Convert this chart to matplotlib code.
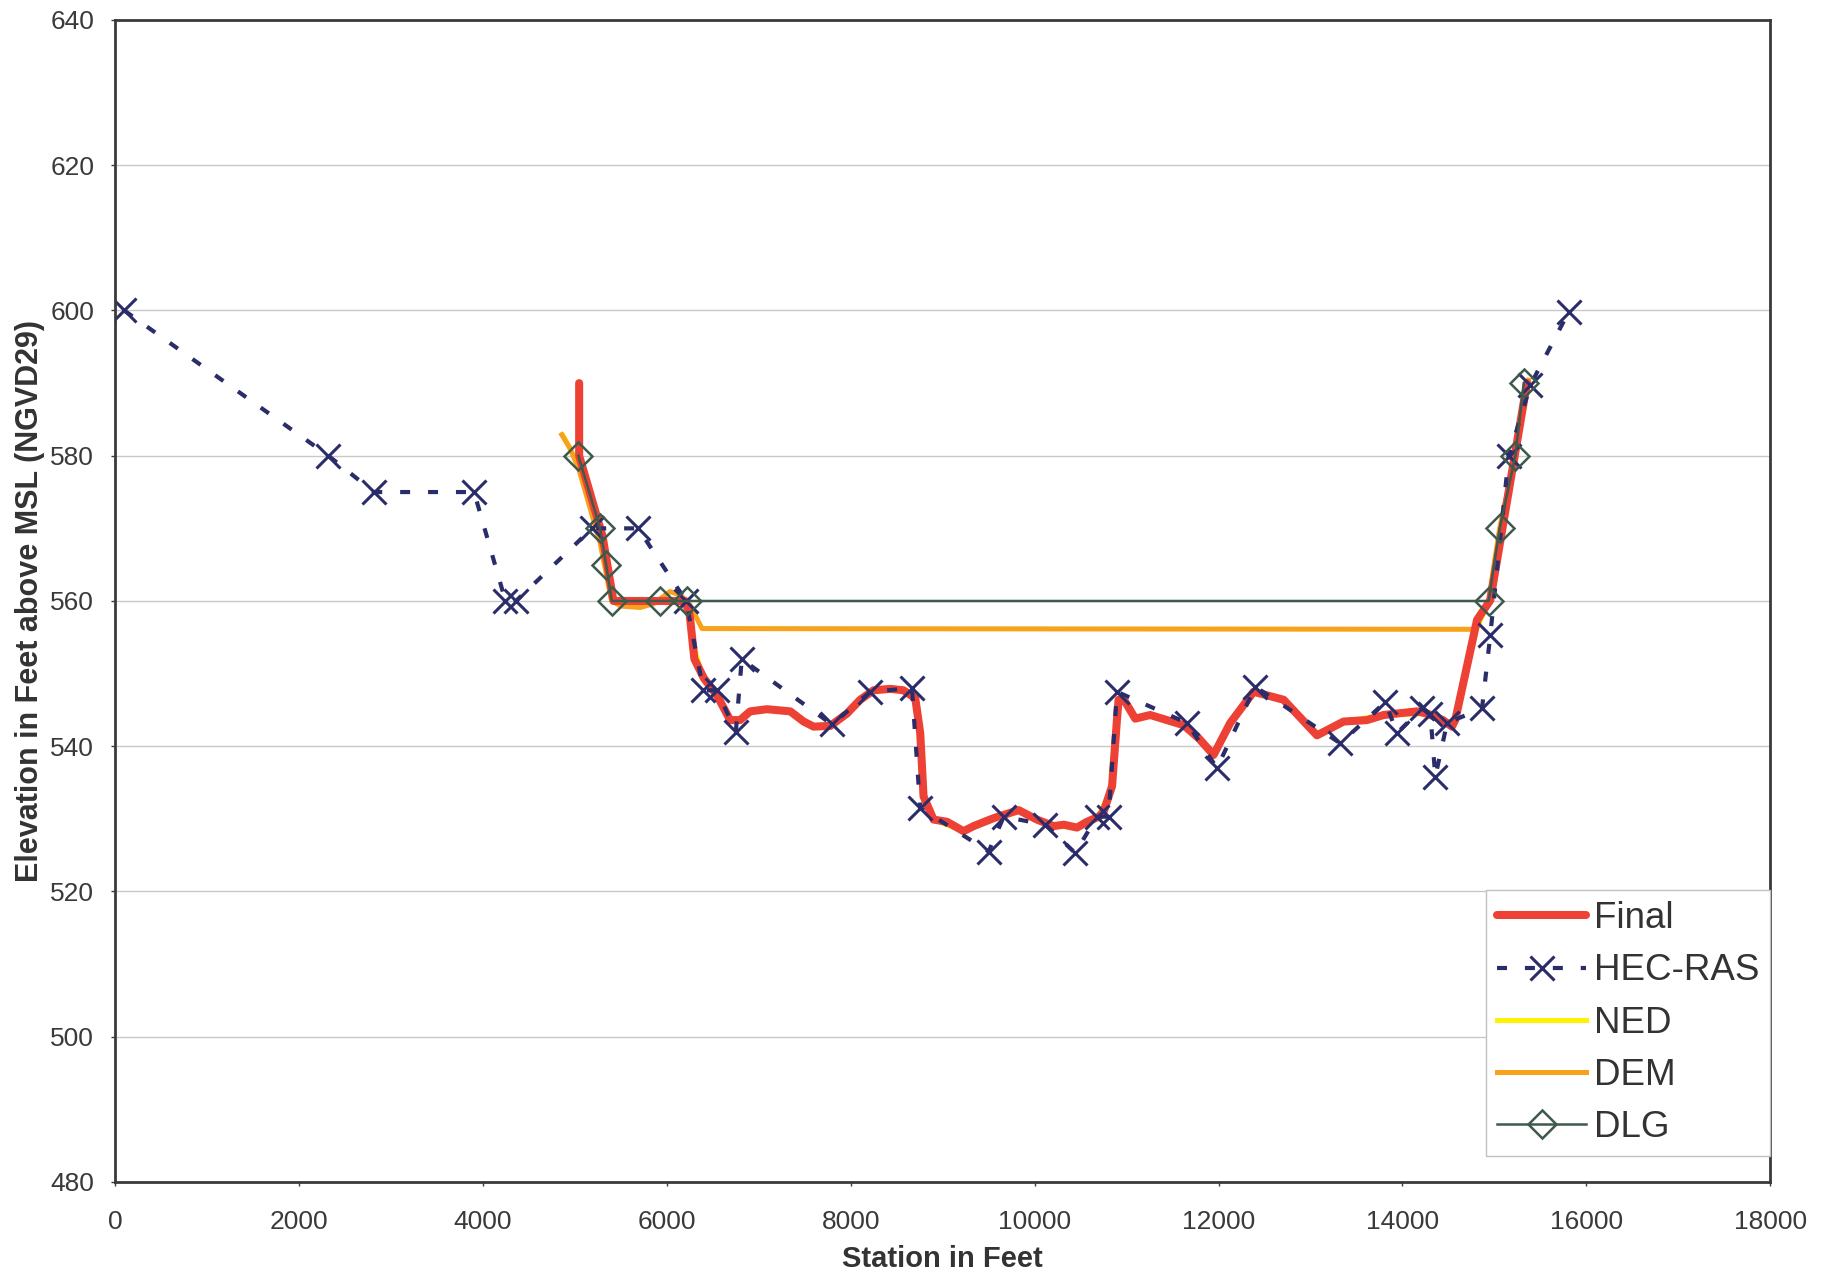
import matplotlib.pyplot as plt

plt.rcParams['font.family'] = ['Liberation Sans', 'DejaVu Sans']

# station (ft) / elevation (ft) for each profile
final_x = [5047, 5047, 5300, 5420, 6200, 6250, 6300, 6402, 6546, 6689, 6797,
           6906, 7088, 7343, 7488, 7597, 7778, 7959, 8103, 8248, 8429, 8574,
           8702, 8756, 8792, 8901, 9046, 9227, 9336, 9554, 9826, 10025, 10206,
           10316, 10461, 10570, 10697, 10751, 10842, 10895, 10913, 10986,
           11094, 11257, 11620, 11784, 11946, 12127, 12381, 12707, 13070,
           13360, 13614, 13795, 14158, 14266, 14440, 14538, 14574, 14811,
           14955, 15354]
final_y = [590, 580, 569, 560, 560, 558, 552, 549.4, 547, 543.6, 543.6,
           544.8, 545.1, 544.8, 543.4, 542.7, 542.8, 544.5, 546.4, 547.7, 547.9,
           547.7, 546.6, 541.8, 533.1, 529.9, 529.6, 528.3, 529.0, 530.1, 531.2,
           529.9, 529.0, 529.2, 528.8, 529.6, 530.3, 531.0, 534.5, 543.6, 546.4,
           546.1, 543.8, 544.3, 542.9, 541.1, 538.8, 543.2, 547.5, 546.4, 541.5,
           543.4, 543.6, 544.3, 544.8, 544.5, 543.6, 542.7, 543.6, 557.4, 560.1,
           590]

hec_x = [100, 2320, 2815, 3904, 4246, 4360, 5188, 5688, 6210, 6399, 6544,
         6751, 6815, 7795, 8212, 8666, 8755, 9500, 9664, 10116, 10441, 10677,
         10804, 10895, 11656, 11983, 12399, 13324, 13814, 13940, 14212, 14303,
         14357, 14485, 14865, 14955, 15155, 15390, 15807]
hec_y = [600, 580, 575, 575, 560, 560, 570, 570, 560, 547.7, 547.7,
         542, 552, 543, 547.5, 548, 531.5, 525.5, 530.3, 529.2, 525.3, 530.3,
         530.3, 547.5, 543.2, 537, 548.2, 540.4, 546.1, 541.8, 545.2, 544.5,
         535.8, 543.2, 545.2, 555.3, 579.9, 589.7, 599.8]

ned_x = [4870, 5047, 5280, 5400, 6210, 6280, 6400, 6546, 6689, 6797, 6906,
         7088, 7343, 7488, 7597, 7778, 7959, 8103, 8248, 8429, 8574, 8702,
         8756, 8792, 8901, 9227, 9554, 9826, 10206, 10461, 10697, 10842,
         10895, 10913, 10986, 11094, 11257, 11620, 11784, 11946, 12127, 12381,
         12707, 13070, 13360, 13795, 14266, 14538, 14574, 14800, 14940, 15060,
         15230, 15360]
ned_y = [582.8, 578.5, 568, 560, 560, 554.5, 549, 547, 543.6, 543.6, 544.8,
         545.1, 544.8, 543.4, 542.7, 542.8, 544.5, 546.4, 547.7, 547.9, 547.7,
         546.6, 541.8, 533.1, 529.9, 528.3, 530.1, 531.2, 529.0, 528.8, 530.3,
         534.5, 543.6, 546.4, 546.1, 543.8, 544.3, 542.9, 541.1, 538.8, 543.2,
         547.5, 546.4, 541.5, 543.4, 544.3, 544.5, 542.7, 543.6, 556, 560, 570,
         580, 590]

dem_x = [4858, 4950, 5047, 5275, 5402, 5500, 5710, 5850, 5950, 6036, 6150,
         6250, 6383, 14793, 14937, 15057, 15228, 15372]
dem_y = [582.9, 581, 578, 568, 560, 559.3, 559.1, 559.6, 560.5, 561.3, 560.8,
         559.5, 556.2, 556.1, 560, 570, 580, 590.4]

dlg_x = [5039, 5275, 5340, 5402, 5928, 6218, 14937, 15057, 15228, 15319]
dlg_y = [580, 570, 565, 560, 560, 560, 560, 570, 580, 590]

x_ticks = list(range(0, 18001, 2000))
y_ticks = list(range(480, 641, 20))


def main():
    fig = plt.figure(figsize=(18.26, 12.73), dpi=100)
    ax = fig.add_axes([0.063, 0.0715, 0.9065, 0.9128])

    ax.plot(ned_x, ned_y, color='#FFF200', lw=3.6, label='NED', zorder=2.0)
    ax.plot(dem_x, dem_y, color='#F7A21B', lw=3.6, label='DEM', zorder=2.1)
    ax.plot(final_x, final_y, color='#EE4136', lw=5.8, label='Final',
            solid_joinstyle='round', solid_capstyle='round', zorder=2.2)
    ax.plot(hec_x, hec_y, color='#2B2D6B', lw=3, dashes=(2.4, 4.3),
            marker='x', ms=17, mew=2.2, label='HEC-RAS', zorder=2.5)
    ax.plot(dlg_x, dlg_y, color='#3D5A4C', lw=1.8, marker='D', ms=14,
            mfc='none', mew=1.8, label='DLG', zorder=3)

    ax.set_xlim(0, 18000)
    ax.set_ylim(480, 640)
    ax.set_xticks(x_ticks)
    ax.set_yticks(y_ticks)
    ax.yaxis.grid(True, color='#C8C8C8', lw=1)
    ax.set_axisbelow(True)
    for s in ax.spines.values():
        s.set_color('#3A3A3A')
        s.set_linewidth(2)
    ax.tick_params(axis='both', labelsize=19, colors='#3A3A3A', length=3,
                   width=1, labelcolor='#3A3A3A')
    ax.tick_params(axis='x', pad=17)
    ax.tick_params(axis='y', pad=12)

    ax.set_xlabel('Station in Feet', fontsize=21, fontweight='bold',
                  color='#333333', labelpad=8)
    ax.set_ylabel('Elevation in Feet above MSL (NGVD29)', fontsize=22,
                  fontweight='bold', color='#333333', labelpad=4)

    h, l = ax.get_legend_handles_labels()
    order = [l.index(n) for n in ['Final', 'HEC-RAS', 'NED', 'DEM', 'DLG']]
    leg = ax.legend([h[i] for i in order], [l[i] for i in order],
                    loc='lower right', bbox_to_anchor=(1.0, 0.022),
                    borderaxespad=0, fontsize=26.5, handlelength=2.4,
                    handletextpad=0.22, labelspacing=0.47, borderpad=0.3,
                    fancybox=False, framealpha=1)
    leg.get_frame().set_edgecolor('#C0C0C0')
    leg.get_frame().set_linewidth(1)
    for t in leg.get_texts():
        t.set_color('#333333')

    fig.savefig('out.png', dpi=100)


if __name__ == '__main__':
    main()
